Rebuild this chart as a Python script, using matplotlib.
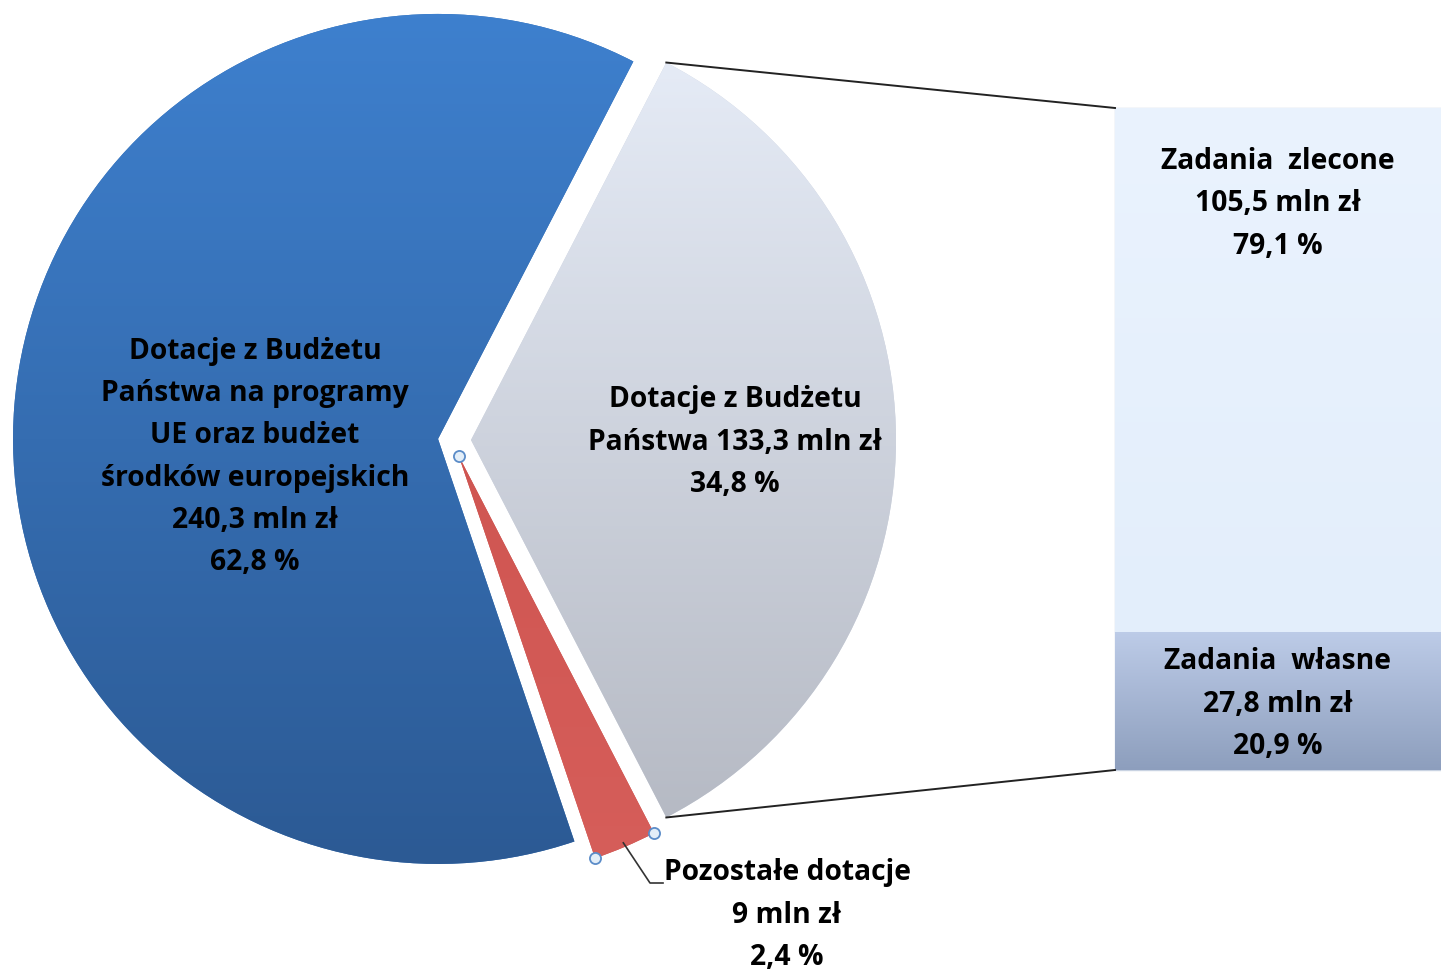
import numpy as np
import matplotlib
matplotlib.use("Agg")
import matplotlib.pyplot as plt
from matplotlib.colors import LinearSegmentedColormap

# ---------------- data ----------------
pie_names = ["Dotacje z Budżetu\nPaństwa", "Dotacje z Budżetu\nPaństwa na programy\nUE oraz budżet\nśrodków europejskich", "Pozostałe dotacje"]
pie_values = [133.3, 240.3, 9]          # mln zł
pie_pcts = [34.8, 62.8, 2.4]            # %
pie_value_txt = ["133,3", "240,3", "9"]
pie_pct_txt = ["34,8", "62,8", "2,4"]

bar_names = ["Zadania  własne", "Zadania  zlecone"]
bar_values = [27.8, 105.5]              # mln zł
bar_pcts = [20.9, 79.1]                 # %
bar_value_txt = ["27,8", "105,5"]
bar_pct_txt = ["20,9", "79,1"]

# ---------------- figure ----------------
W, H = 1441, 972
fig = plt.figure(figsize=(W / 100, H / 100), dpi=100)
ax = fig.add_axes([0, 0, 1, 1])

FONT = dict(family="Open Sans", weight="bold", fontsize=20.3, color="black")
LS = 1.60

pie_center = (452, H - 440)
pie_radius = 425
start = -pie_pcts[0] * 3.6 / 2

wedges, _ = ax.pie(pie_pcts, startangle=start, counterclock=True,
                   center=pie_center, radius=pie_radius,
                   explode=[19, 14, 17],
                   colors=["#CDD3E0", "#3570B5", "#CD5450"],
                   wedgeprops=dict(linewidth=0))

pie_grads = [("#E8EEF9", "#B3B7C1"), ("#3E80CE", "#2C5A94"), ("#C94D49", "#D65E5A")]
for w, (c1, c2) in zip(wedges, pie_grads):
    cx, cy = w.center
    r = w.r
    cmap = LinearSegmentedColormap.from_list("g", [c2, c1])
    grad = np.linspace(0, 1, 256).reshape(-1, 1)
    im = ax.imshow(grad, extent=[cx - r, cx + r, cy - r, cy + r], origin="lower",
                   cmap=cmap, aspect="auto", zorder=w.get_zorder() + 0.1, interpolation="bicubic")
    im.set_clip_path(w)

# ---------------- bar (stacked) ----------------
bar_left, bar_right = 1115, 1441
bar_bottom_px, bar_top_px = H - 770, H - 108
scale = (bar_top_px - bar_bottom_px) / sum(bar_pcts)
bar_x = (bar_left + bar_right) / 2
bar_w = bar_right - bar_left
bar_grads = [("#BDCCE8", "#8D9EBD"), ("#EAF3FE", "#E3EEFB")]
bottom = bar_bottom_px
bar_rects = []
for pct, (c1, c2) in zip(bar_pcts, bar_grads):
    h = pct * scale
    rect = ax.bar(bar_x, h, width=bar_w, bottom=bottom, color=c1,
                  edgecolor="#C9D3E2", linewidth=1.0, zorder=2)[0]
    cmap = LinearSegmentedColormap.from_list("g", [c2, c1])
    grad = np.linspace(0, 1, 256).reshape(-1, 1)
    im = ax.imshow(grad, extent=[bar_left, bar_right, bottom, bottom + h], origin="lower",
                   cmap=cmap, aspect="auto", zorder=2.1, interpolation="bicubic")
    im.set_clip_path(rect)
    bar_rects.append((bottom, h))
    bottom += h

# ---------------- connector lines ----------------
gw = wedges[0]
gcx, gcy = gw.center
t1, t2 = np.deg2rad(gw.theta1), np.deg2rad(gw.theta2)
top_corner = (gcx + gw.r * np.cos(t2), gcy + gw.r * np.sin(t2))
bot_corner = (gcx + gw.r * np.cos(t1), gcy + gw.r * np.sin(t1))
ax.plot([top_corner[0], bar_left], [top_corner[1], bar_top_px], color="#222222", lw=1.4, zorder=3)
ax.plot([bot_corner[0], bar_left], [bot_corner[1], bar_bottom_px], color="#222222", lw=1.4, zorder=3)

# ---------------- selection handles on small slice ----------------
rw = wedges[2]
rcx, rcy = rw.center
r1, r2 = np.deg2rad(rw.theta1), np.deg2rad(rw.theta2)
hx = [rcx, rcx + rw.r * np.cos(r1), rcx + rw.r * np.cos(r2)]
hy = [rcy, rcy + rw.r * np.sin(r1), rcy + rw.r * np.sin(r2)]
ax.plot(hx, hy, "o", ms=8, mfc="#E3EEF8", mec="#5B8CC8", mew=1.3, ls="none", zorder=5)

# ---------------- labels ----------------
def lab(i):
    return f"{pie_names[i]} {pie_value_txt[i]} mln zł\n{pie_pct_txt[i]} %" if i == 0 else \
        f"{pie_names[i]}\n{pie_value_txt[i]} mln zł\n{pie_pct_txt[i]} %"

ax.text(735, H - 442, lab(0), ha="center", va="center", linespacing=LS, zorder=6, **FONT)
ax.text(255, H - 457, lab(1), ha="center", va="center", linespacing=LS, zorder=6, **FONT)
ax.text(787, H - 915, lab(2), ha="center", va="center", linespacing=LS, zorder=6, **FONT)

# leader for small slice
rmid = np.deg2rad((rw.theta1 + rw.theta2) / 2)
p0 = (rcx + rw.r * 0.99 * np.cos(rmid), rcy + rw.r * 0.99 * np.sin(rmid))
ax.plot([p0[0], 650, 663], [p0[1], H - 883, H - 883], color="#333333", lw=1.2, zorder=4)

for (b, h), name, v, p in zip(bar_rects, bar_names, bar_value_txt, bar_pct_txt):
    ytxt = H - 704 if b == bar_bottom_px else H - 204
    ax.text(1278, ytxt, f"{name}\n{v} mln zł\n{p} %", ha="center", va="center",
            linespacing=LS, zorder=6, **FONT)

ax.set_xlim(0, W)
ax.set_ylim(0, H)
ax.set_aspect("equal")
ax.axis("off")
fig.savefig("out.png", dpi=100, facecolor="white")
